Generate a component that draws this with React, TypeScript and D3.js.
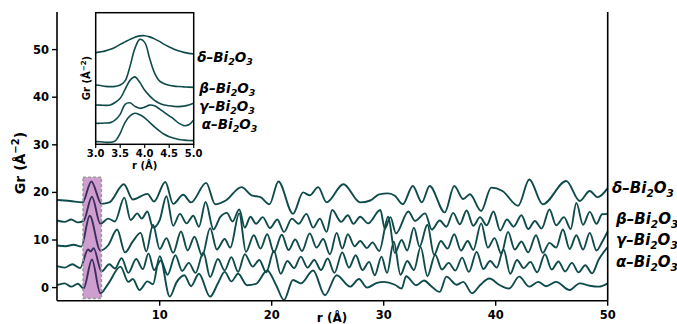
import React from "react";
import * as d3 from "d3";

// ---------- data ----------
const labels = ["δ", "β", "γ", "α"];
const xTicks = [10, 20, 30, 40, 50];
const yTicks = [0, 10, 20, 30, 40, 50];
const insetXTicks = [3.0, 3.5, 4.0, 4.5, 5.0];

// main curves: [r (Å), Gr]
const deltaMain: [number, number][] = [
  [0.83, 18.4], [2.0, 18.2], [3.1, 17.9], [3.9, 22.3], [4.8, 17.6], [5.5, 17.9], [6.8, 21.7], [7.6, 18.5],
  [8.9, 19.7], [9.5, 18.1], [10.5, 22.2], [11.2, 17.6], [12.1, 19.5], [12.8, 17.9], [14.15, 22.0], [14.95, 17.5],
  [15.9, 18.3], [17.3, 21.1], [18.2, 19.4], [19.0, 19.0], [19.8, 17.5], [20.6, 22.3], [21.9, 15.5], [22.8, 20.0],
  [23.4, 19.4], [24.15, 21.1], [24.9, 17.9], [26.4, 21.7], [27.9, 17.9], [28.8, 18.3], [29.6, 19.6], [30.4, 19.8],
  [31.0, 19.3], [31.7, 17.5], [32.6, 21.35], [33.4, 17.9], [34.1, 21.35], [35.45, 15.8], [36.3, 21.35], [37.1, 18.6],
  [37.7, 19.6], [38.7, 16.1], [39.6, 21.0], [40.6, 20.3], [42.0, 17.2], [43.0, 22.7], [44.2, 17.5], [46.3, 22.4],
  [47.5, 18.2], [48.4, 20.3], [49.1, 19.0], [50.0, 20.9],
];
const betaMain: [number, number][] = [
  [0.83, 14.1], [1.5, 13.8], [2.1, 14.3], [2.7, 13.7], [3.2, 14.0], [3.95, 19.1], [4.7, 13.4], [5.4, 14.5],
  [6.0, 13.9], [6.84, 18.9], [7.4, 14.2], [8.0, 15.6], [8.4, 14.5], [8.9, 16.0], [9.4, 12.6], [10.0, 14.2],
  [10.6, 19.2], [11.2, 13.0], [11.8, 15.5], [12.4, 13.5], [13.0, 15.1], [13.5, 12.8], [14.1, 18.0], [14.8, 12.2],
  [15.4, 14.8], [16.0, 15.7], [16.5, 13.9], [17.1, 16.4], [17.6, 12.6], [18.1, 14.9], [18.6, 13.4], [19.2, 14.8],
  [19.85, 12.5], [20.5, 14.3], [21.1, 11.7], [21.8, 14.5], [22.4, 13.4], [23.1, 15.5], [23.7, 12.6], [24.3, 14.5],
  [24.9, 11.7], [25.4, 16.3], [26.2, 13.8], [26.8, 15.2], [27.3, 13.4], [27.9, 14.9], [28.6, 13.5], [29.7, 16.3],
  [30.1, 12.4], [30.6, 14.8], [31.1, 11.4], [32.2, 16.0], [32.8, 14.0], [33.7, 15.6], [34.3, 12.2], [35.0, 14.1],
  [35.6, 12.8], [36.2, 15.7], [36.8, 13.3], [37.4, 16.2], [38.0, 13.0], [38.6, 14.8], [39.2, 13.1], [39.8, 16.0],
  [40.4, 12.0], [41.0, 14.3], [41.6, 12.8], [42.3, 15.2], [42.9, 12.3], [43.5, 14.0], [44.1, 12.4], [44.8, 16.4],
  [45.4, 13.1], [46.1, 14.8], [46.7, 12.3], [47.2, 17.8], [47.8, 13.2], [48.4, 15.9], [49.0, 13.4], [49.5, 15.4],
  [50.0, 15.5],
];
const gammaMain: [number, number][] = [
  [0.83, 8.85], [1.6, 8.7], [2.3, 9.0], [3.0, 8.6], [3.75, 15.1], [4.7, 7.8], [5.4, 8.9], [6.2, 12.2],
  [6.9, 7.4], [7.6, 9.7], [8.3, 11.5], [8.8, 7.6], [9.4, 13.2], [10.0, 8.1], [10.6, 10.4], [11.2, 7.3],
  [11.9, 11.8], [12.5, 7.8], [13.1, 10.7], [13.8, 6.7], [14.5, 12.5], [15.1, 8.0], [15.8, 10.2], [16.3, 8.4],
  [17.1, 15.6], [17.7, 7.5], [18.4, 11.0], [19.0, 8.2], [19.6, 11.2], [20.2, 7.4], [20.9, 11.1], [21.5, 7.9],
  [22.1, 10.1], [22.7, 7.7], [23.4, 11.4], [24.0, 8.4], [24.6, 10.2], [25.2, 7.0], [25.8, 11.5], [26.3, 8.2],
  [26.8, 11.2], [27.4, 8.7], [27.9, 9.8], [28.5, 8.3], [29.0, 9.5], [29.6, 7.7], [30.4, 14.9], [31.0, 7.3],
  [31.6, 10.0], [32.1, 7.8], [32.7, 12.6], [33.2, 8.6], [33.9, 13.2], [34.5, 6.9], [35.1, 9.8], [35.7, 8.2],
  [36.3, 11.2], [36.9, 7.8], [37.5, 9.8], [38.0, 7.9], [38.7, 13.5], [39.3, 8.4], [39.9, 10.4], [40.5, 7.1],
  [41.1, 11.7], [41.7, 8.0], [42.3, 9.7], [42.9, 7.4], [43.6, 11.0], [44.2, 7.3], [44.8, 9.4], [45.4, 8.4],
  [46.0, 12.2], [46.6, 8.1], [47.2, 11.0], [47.8, 8.0], [48.4, 11.5], [49.0, 7.8], [49.5, 9.6], [50.0, 11.8],
];
const alphaMain: [number, number][] = [
  [0.83, 4.5], [1.5, 4.2], [2.2, 4.9], [2.9, 4.1], [3.6, 8.0], [3.85, 7.6], [4.1, 8.3], [4.8, 3.4],
  [5.5, 4.9], [6.0, 4.0], [6.6, 6.2], [7.2, 3.1], [7.9, 6.0], [8.5, 3.9], [9.0, 7.2], [9.5, 3.7],
  [10.1, 5.7], [10.7, 2.7], [11.4, 6.8], [12.0, 3.5], [12.6, 5.2], [13.2, 3.1], [13.9, 7.4], [14.5, 2.2],
  [15.2, 6.0], [15.8, 3.6], [16.4, 6.4], [17.0, 3.3], [17.6, 7.0], [18.3, 4.4], [18.9, 5.8], [19.5, 3.2],
  [20.2, 7.7], [20.8, 2.9], [21.4, 5.6], [22.0, 4.1], [22.6, 6.5], [23.2, 4.2], [23.8, 5.8], [24.4, 3.7],
  [25.0, 6.1], [25.6, 3.1], [26.3, 7.4], [26.9, 4.2], [27.5, 6.8], [28.1, 3.7], [28.7, 5.4], [29.2, 2.6],
  [29.8, 6.5], [30.3, 3.1], [30.9, 9.7], [31.5, 2.7], [32.1, 5.6], [32.7, 3.7], [33.3, 8.5], [33.9, 2.4],
  [34.6, 6.9], [35.2, 3.8], [35.8, 5.2], [36.4, 3.6], [37.0, 6.3], [37.6, 3.3], [38.3, 7.5], [38.9, 3.9],
  [39.5, 5.6], [40.1, 4.2], [40.7, 8.0], [41.3, 2.9], [41.9, 5.8], [42.5, 4.1], [43.1, 5.4], [43.7, 3.2],
  [44.4, 7.0], [45.0, 3.8], [45.6, 5.5], [46.2, 3.4], [46.8, 5.2], [47.4, 3.2], [48.0, 4.7], [48.6, 3.0],
  [49.2, 5.9], [50.0, 8.5],
];
const baseMain: [number, number][] = [
  [0.83, 0.5], [1.5, 0.9], [2.1, 0.2], [2.7, 0.8], [3.2, -0.2], [3.95, 5.9], [4.7, -1.2], [5.4, 0.8],
  [6.5, 4.4], [7.2, 1.2], [7.6, 1.8], [8.2, -0.5], [8.9, 1.3], [9.4, 0.7], [10.0, 6.6], [10.9, -1.9],
  [11.5, 1.1], [12.2, 2.6], [12.8, 0.3], [13.5, 2.9], [14.5, -1.9], [15.2, 0.9], [15.8, 3.3], [16.4, 1.3],
  [17.0, 2.9], [17.8, 0.5], [18.6, 0.8], [19.6, 3.6], [20.4, 0.5], [21.1, -2.6], [21.9, 1.6], [22.6, 0.9],
  [23.7, 3.6], [24.75, -1.6], [25.8, 2.6], [27.0, 0.2], [27.8, 1.8], [28.5, 0.0], [29.4, 1.0], [30.0, 1.2],
  [31.0, 0.6], [31.6, -0.2], [32.0, 2.4], [32.9, 0.5], [33.6, 1.5], [34.2, 0.4], [35.0, -0.9], [35.6, 2.3],
  [36.5, 0.6], [37.1, 1.2], [37.9, -1.2], [38.6, 0.5], [39.45, 1.9], [40.3, 0.6], [41.2, -0.2], [42.1, 2.3],
  [43.0, 0.2], [43.8, 1.2], [44.5, 0.3], [45.4, 1.2], [46.6, -0.5], [47.5, 0.9], [48.4, 0.4], [49.2, 0.2],
  [50.0, 0.9],
];

// inset curves, r = 3.0 .. 5.0 step 0.1
const insetR = d3.range(21).map((i) => 3 + i * 0.1);
const deltaInset = [9.17, 9.25, 9.35, 9.5, 9.72, 10.0, 10.25, 10.5, 10.72, 10.85, 10.87, 10.75, 10.55, 10.3, 10.0, 9.75, 9.52, 9.33, 9.2, 9.1, 9.03];
const betaInset = [5.93, 5.88, 5.8, 5.77, 5.8, 5.93, 6.35, 7.8, 9.6, 10.5, 10.2, 8.6, 7.15, 6.35, 6.05, 5.9, 5.82, 5.78, 5.75, 5.72, 5.7];
const gammaInset = [3.93, 3.92, 3.9, 3.93, 4.2, 4.6, 5.5, 6.4, 6.75, 6.2, 5.4, 4.85, 4.4, 4.1, 3.93, 3.85, 3.8, 3.77, 3.82, 3.93, 4.1];
const alphaInset = [2.1, 2.1, 2.13, 2.17, 2.45, 3.0, 4.0, 4.15, 3.8, 3.6, 3.72, 3.92, 3.85, 3.55, 3.2, 2.85, 2.5, 2.1, 1.87, 1.95, 2.43];
const baseInset = [0.27, 0.25, 0.2, 0.2, 0.35, 1.1, 2.2, 2.85, 3.1, 2.95, 2.65, 2.2, 1.75, 1.35, 1.0, 0.75, 0.6, 0.48, 0.42, 0.38, 0.37];

const bandR = [3.16, 4.79];
const bandG = [-2.27, 23.2];

// label rows (Gr positions in each axes)
const mainLabelG = [20.9, 14.4, 10.0, 5.4];
const insetLabelG = [8.74, 5.64, 3.83, 2.03];

// ---------- layout ----------
const W = 677, H = 324;
const LINE = "#0f4b4b";
const FONT = "DejaVu Sans";

const x = d3.scaleLinear().domain([0.83, 50]).range([57, 607.7]);
const y = d3.scaleLinear().domain([-2.75, 57.9]).range([300.7, 12]);
const xi = d3.scaleLinear().domain([3, 5]).range([95.7, 193.7]);
const yi = d3.scaleLinear().domain([0, 13.17]).range([144.3, 12.7]);

const mainLine = d3
  .line<[number, number]>()
  .x((d) => x(d[0]))
  .y((d) => y(d[1]))
  .curve(d3.curveMonotoneX);
const insetLine = d3
  .line<number>()
  .x((_, i) => xi(insetR[i]))
  .y((d) => yi(d))
  .curve(d3.curveCatmullRom.alpha(0.5));

function Label({ x0, y0, greek, size, shift }: { x0: number; y0: number; greek: string; size: number; shift: number }) {
  const sub = size * 0.7;
  const dy = size * shift;
  return (
    <text x={x0} y={y0} fontFamily={FONT} fontWeight="bold" fontStyle="italic" fontSize={size} fill="#000">
      {greek}–Bi
      <tspan dy={dy} fontSize={sub}>2</tspan>
      <tspan dy={-dy}>O</tspan>
      <tspan dy={dy} fontSize={sub}>3</tspan>
    </text>
  );
}

export default function App() {
  const mains = [deltaMain, betaMain, gammaMain, alphaMain, baseMain];
  const insets = [deltaInset, betaInset, gammaInset, alphaInset, baseInset];
  const mainLabelX = [612, 616, 616, 616];
  const insetLabelX = [197.3, 199.3, 199.3, 201.7];
  return (
    <svg width={W} height={H} style={{ position: "absolute", left: 0, top: 0, background: "#fff" }}>
      <rect x={0} y={0} width={W} height={H} fill="#fff" />
      {mains.map((c, i) => (
        <path key={i} d={mainLine(c) || ""} fill="none" stroke={LINE} strokeWidth={1.9} />
      ))}
      <rect
        x={x(bandR[0])}
        y={y(bandG[1])}
        width={x(bandR[1]) - x(bandR[0])}
        height={y(bandG[0]) - y(bandG[1])}
        fill="purple"
        fillOpacity={0.38}
        stroke="#9a9a9a"
        strokeWidth={1.6}
        strokeDasharray="3,2"
      />
      <g stroke="#000" strokeWidth={1.6} fill="none">
        <line x1={x.range()[0]} x2={x.range()[0]} y1={y.range()[0]} y2={y.range()[1]} />
        <line x1={x.range()[1]} x2={x.range()[1]} y1={y.range()[0]} y2={y.range()[1]} />
        <line x1={x.range()[0]} x2={x.range()[1]} y1={y.range()[0]} y2={y.range()[0]} />
      </g>
      {xTicks.map((t) => (
        <g key={t}>
          <line x1={x(t)} x2={x(t)} y1={y.range()[0]} y2={y.range()[0] + 5} stroke="#000" strokeWidth={1.4} />
          <text x={x(t)} y={y.range()[0] + 18} textAnchor="middle" fontFamily={FONT} fontWeight="bold" fontSize={11.5}>
            {t}
          </text>
        </g>
      ))}
      {yTicks.map((t) => (
        <g key={t}>
          <line x1={x.range()[0] - 5} x2={x.range()[0]} y1={y(t)} y2={y(t)} stroke="#000" strokeWidth={1.4} />
          <text x={x.range()[0] - 8} y={y(t) + 4} textAnchor="end" fontFamily={FONT} fontWeight="bold" fontSize={11.5}>
            {t}
          </text>
        </g>
      ))}
      <text x={332} y={322} textAnchor="middle" fontFamily={FONT} fontWeight="bold" fontSize={12}>
        r (Å)
      </text>
      <text transform="translate(25,163) rotate(-90)" textAnchor="middle" fontFamily={FONT} fontWeight="bold" fontSize={14}>
        Gr (Å<tspan dy={-6} fontSize={10}>−2</tspan>
        <tspan dy={6}>)</tspan>
      </text>
      {labels.map((g, i) => (
        <Label key={g} x0={mainLabelX[i]} y0={y(mainLabelG[i]) + 5} greek={g} size={15} shift={0.28} />
      ))}

      <rect x={95.7} y={12.7} width={98} height={131.6} fill="#fff" />
      {insets.map((c, i) => (
        <path key={i} d={insetLine(c) || ""} fill="none" stroke={LINE} strokeWidth={1.6} />
      ))}
      <rect x={95.7} y={12.7} width={98} height={131.6} fill="none" stroke="#000" strokeWidth={1.5} />
      {insetXTicks.map((t) => (
        <g key={t}>
          <line x1={xi(t)} x2={xi(t)} y1={144.3} y2={148} stroke="#000" strokeWidth={1.2} />
          <text x={xi(t)} y={157} textAnchor="middle" fontFamily={FONT} fontWeight="bold" fontSize={10}>
            {t.toFixed(1)}
          </text>
        </g>
      ))}
      <text x={144.7} y={169} textAnchor="middle" fontFamily={FONT} fontWeight="bold" fontSize={10}>
        r (Å)
      </text>
      <text transform="translate(90,78) rotate(-90)" textAnchor="middle" fontFamily={FONT} fontWeight="bold" fontSize={10}>
        Gr (Å<tspan dy={-4} fontSize={7}>−2</tspan>
        <tspan dy={4}>)</tspan>
      </text>
      {labels.map((g, i) => (
        <Label key={g} x0={insetLabelX[i]} y0={yi(insetLabelG[i]) + 5} greek={g} size={13.5} shift={0.2} />
      ))}
    </svg>
  );
}
